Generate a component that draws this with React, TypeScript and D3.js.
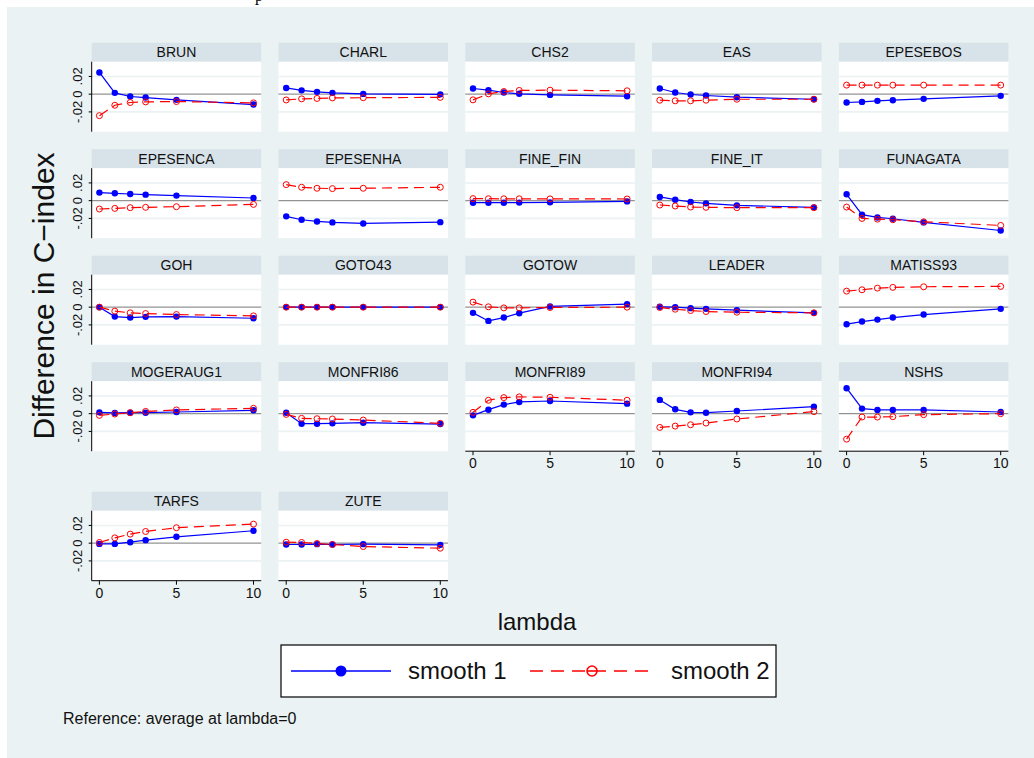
import React, { useEffect, useRef } from "react";
import * as d3 from "d3";

// lambda values on the x axis
const lambdas = [0, 1, 2, 3, 5, 10];

const studies = [
  "BRUN", "CHARL", "CHS2", "EAS", "EPESEBOS",
  "EPESENCA", "EPESENHA", "FINE_FIN", "FINE_IT", "FUNAGATA",
  "GOH", "GOTO43", "GOTOW", "LEADER", "MATISS93",
  "MOGERAUG1", "MONFRI86", "MONFRI89", "MONFRI94", "NSHS",
  "TARFS", "ZUTE"
];

// smooth 1 (blue, solid)
const smooth1 = [
  [0.0245, 0.0015, -0.0026, -0.0038, -0.0064, -0.0117],
  [0.007, 0.0043, 0.0026, 0.0015, 0.0003, -0.0002],
  [0.0064, 0.0045, 0.0019, 0.0004, -0.0008, -0.0023],
  [0.0064, 0.0019, -0.0004, -0.0015, -0.0034, -0.0057],
  [-0.0094, -0.0087, -0.0075, -0.0068, -0.0053, -0.0019],
  [0.0091, 0.0083, 0.0075, 0.0068, 0.0057, 0.003],
  [-0.0177, -0.0215, -0.0234, -0.0245, -0.0257, -0.0242],
  [-0.0023, -0.0023, -0.0023, -0.0022, -0.0019, -0.0008],
  [0.0042, 0.0011, -0.0015, -0.003, -0.0053, -0.0075],
  [0.0072, -0.0158, -0.0189, -0.0204, -0.0245, -0.0336],
  [0, -0.0106, -0.0117, -0.0109, -0.0106, -0.0125],
  [0.0001, 0.0001, 0.0001, 0.0001, 0.0001, 0.0001],
  [-0.0064, -0.0155, -0.0117, -0.0068, 0.0008, 0.0034],
  [0.0004, 0, -0.0011, -0.0019, -0.0034, -0.0064],
  [-0.0192, -0.0162, -0.014, -0.0117, -0.0083, -0.0019],
  [0.0015, 0.0008, 0.0011, 0.0011, 0.0019, 0.0038],
  [0.0011, -0.0113, -0.0113, -0.0109, -0.0102, -0.0117],
  [-0.0019, 0.0045, 0.0102, 0.0132, 0.0143, 0.0113],
  [0.0155, 0.0049, 0.0015, 0.0011, 0.003, 0.0079],
  [0.0287, 0.0057, 0.0042, 0.0042, 0.0042, 0.0019],
  [-0.0008, -0.0008, 0.0011, 0.0034, 0.0072, 0.014],
  [-0.0015, -0.0015, -0.0011, -0.0015, -0.0011, -0.0019]
];

// smooth 2 (red, dashed, hollow)
const smooth2 = [
  [-0.0242, -0.0125, -0.0094, -0.0087, -0.0083, -0.0098],
  [-0.0065, -0.0053, -0.0048, -0.0042, -0.004, -0.0036],
  [-0.0064, 0.0004, 0.003, 0.0042, 0.0045, 0.0038],
  [-0.0068, -0.0075, -0.0075, -0.0068, -0.0057, -0.0057],
  [0.0102, 0.0102, 0.0102, 0.0102, 0.0102, 0.0102],
  [-0.0094, -0.0087, -0.0079, -0.0075, -0.0068, -0.0042],
  [0.0181, 0.0151, 0.014, 0.0136, 0.014, 0.0151],
  [0.0023, 0.0022, 0.0021, 0.0021, 0.002, 0.0019],
  [-0.0049, -0.006, -0.0072, -0.0075, -0.0079, -0.0079],
  [-0.0072, -0.02, -0.0208, -0.0215, -0.0238, -0.0279],
  [0, -0.0045, -0.0064, -0.0072, -0.0083, -0.0098],
  [0, 0, 0, 0, 0, 0],
  [0.0057, 0.0004, -0.0008, -0.0008, -0.0004, 0],
  [-0.0004, -0.0023, -0.0038, -0.0049, -0.0057, -0.0064],
  [0.0181, 0.0196, 0.0215, 0.0223, 0.023, 0.0234],
  [-0.0019, -0.0004, 0.0011, 0.0026, 0.0042, 0.006],
  [-0.0008, -0.0053, -0.0057, -0.006, -0.0072, -0.0109],
  [0.0015, 0.0151, 0.0181, 0.0189, 0.0185, 0.0151],
  [-0.0155, -0.014, -0.0125, -0.0106, -0.006, 0.0023],
  [-0.0287, -0.0038, -0.0038, -0.0034, -0.0011, 0],
  [0.0008, 0.006, 0.0102, 0.0132, 0.0174, 0.0215],
  [0.0011, 0.0008, -0.0004, -0.0015, -0.0038, -0.0057]
];

const yTicks = [-0.02, 0, 0.02];
const yTickLabels = ["-.02", "0", ".02"];
const xTicks = [0, 5, 10];

const FONT = "'Liberation Sans', Arial, Helvetica, sans-serif";

function App() {
  const ref = useRef<SVGSVGElement>(null);

  useEffect(() => {
    drawChart();
  }, []);

  const drawChart = () => {
    const svg = d3.select(ref.current);
    svg.selectAll("*").remove();

    const W = 1034;
    const H = 758;
    const ncol = 5;
    const colLeft = 91.7;
    const colStep = 186.8;
    const panelW = 169.5;
    const stripH = 19;
    const plotH = 70;
    const rowTop = (r: number) => 42.7 + r * 106.5 + (r === 4 ? 23 : 0);

    // page background
    svg.append("rect").attr("width", W).attr("height", H).attr("fill", "white");
    svg
      .append("text")
      .attr("x", 255)
      .attr("y", 1)
      .style("font-family", "serif")
      .style("font-size", "16px")
      .text("p");
    svg
      .append("rect")
      .attr("x", 7)
      .attr("y", 7)
      .attr("width", W - 7)
      .attr("height", H - 7)
      .attr("fill", "#eaf2f3");

    const x = d3.scaleLinear().domain([-0.5, 10.5]).range([0, panelW]);
    const y = d3.scaleLinear().domain([-0.0423, 0.0366]).range([plotH, 0]);

    const line = d3
      .line<number>()
      .x((d, i) => x(lambdas[i]))
      .y(d => y(d));

    const n = studies.length;

    studies.forEach((name, idx) => {
      const r = Math.floor(idx / ncol);
      const c = idx % ncol;
      const left = colLeft + c * colStep;
      const top = rowTop(r);
      const g = svg.append("g").attr("transform", `translate(${left},${top})`);

      // strip
      g.append("rect")
        .attr("width", panelW)
        .attr("height", stripH)
        .attr("fill", "#d8e3e9");
      g.append("text")
        .attr("x", panelW / 2)
        .attr("y", 14.5)
        .attr("text-anchor", "middle")
        .style("font-family", FONT)
        .style("font-size", "14px")
        .attr("fill", "#111")
        .text(name);

      const p = g.append("g").attr("transform", `translate(0,${stripH})`);
      p.append("rect").attr("width", panelW).attr("height", plotH).attr("fill", "white");

      // grid
      p.selectAll("line.grid")
        .data(yTicks.filter(t => t !== 0))
        .enter()
        .append("line")
        .attr("x1", 0)
        .attr("x2", panelW)
        .attr("y1", d => y(d))
        .attr("y2", d => y(d))
        .attr("stroke", "#eaf2f3")
        .attr("stroke-width", 1.6);

      // reference line at 0
      p.append("line")
        .attr("x1", 0)
        .attr("x2", panelW)
        .attr("y1", y(0))
        .attr("y2", y(0))
        .attr("stroke", "#939393")
        .attr("stroke-width", 1.4);

      // smooth 1
      p.append("path")
        .attr("d", line(smooth1[idx]))
        .attr("fill", "none")
        .attr("stroke", "#0000ff")
        .attr("stroke-width", 1.2);
      p.selectAll("circle.s1")
        .data(smooth1[idx])
        .enter()
        .append("circle")
        .attr("cx", (d, i) => x(lambdas[i]))
        .attr("cy", d => y(d))
        .attr("r", 3.2)
        .attr("fill", "#0000ff");

      // smooth 2
      p.append("path")
        .attr("d", line(smooth2[idx]))
        .attr("fill", "none")
        .attr("stroke", "#ff0000")
        .attr("stroke-width", 1.2)
        .attr("stroke-dasharray", "10,6");
      p.selectAll("circle.s2")
        .data(smooth2[idx])
        .enter()
        .append("circle")
        .attr("cx", (d, i) => x(lambdas[i]))
        .attr("cy", d => y(d))
        .attr("r", 3)
        .attr("fill", "none")
        .attr("stroke", "#ff0000")
        .attr("stroke-width", 1);

      // y axis on first column
      if (c === 0) {
        p.append("line")
          .attr("x1", 0)
          .attr("x2", 0)
          .attr("y1", 0)
          .attr("y2", plotH)
          .attr("stroke", "black")
          .attr("stroke-width", 1);
        yTicks.forEach((t, i) => {
          p.append("line")
            .attr("x1", -3)
            .attr("x2", 0)
            .attr("y1", y(t))
            .attr("y2", y(t))
            .attr("stroke", "black");
          p.append("text")
            .attr("transform", `translate(-10.2,${y(t)}) rotate(-90)`)
            .attr("text-anchor", "middle")
            .style("font-family", FONT)
            .style("font-size", "13px")
            .attr("fill", "#111")
            .text(yTickLabels[i]);
        });
      }

      // x axis on the lowest panel of each column
      if (idx + ncol >= n) {
        p.append("line")
          .attr("x1", 0)
          .attr("x2", panelW)
          .attr("y1", plotH)
          .attr("y2", plotH)
          .attr("stroke", "black");
        xTicks.forEach(t => {
          p.append("line")
            .attr("x1", x(t))
            .attr("x2", x(t))
            .attr("y1", plotH)
            .attr("y2", plotH + 4)
            .attr("stroke", "black");
          p.append("text")
            .attr("x", x(t))
            .attr("y", plotH + 17)
            .attr("text-anchor", "middle")
            .style("font-family", FONT)
            .style("font-size", "14px")
            .attr("fill", "#111")
            .text(t);
        });
      }
    });

    // axis titles
    svg
      .append("text")
      .attr("transform", `translate(54,296) rotate(-90)`)
      .attr("text-anchor", "middle")
      .style("font-family", FONT)
      .style("font-size", "30px")
      .attr("fill", "#111")
      .text("Difference in C\u2212index");
    svg
      .append("text")
      .attr("x", 537)
      .attr("y", 630)
      .attr("text-anchor", "middle")
      .style("font-family", FONT)
      .style("font-size", "24px")
      .attr("fill", "#111")
      .text("lambda");

    // legend
    const lg = svg.append("g").attr("transform", "translate(281,645)");
    lg.append("rect")
      .attr("width", 495)
      .attr("height", 52)
      .attr("fill", "white")
      .attr("stroke", "black")
      .attr("stroke-width", 1.2);
    lg.append("line")
      .attr("x1", 10)
      .attr("x2", 110)
      .attr("y1", 26)
      .attr("y2", 26)
      .attr("stroke", "#0000ff")
      .attr("stroke-width", 1.6);
    lg.append("circle").attr("cx", 60).attr("cy", 26).attr("r", 5.5).attr("fill", "#0000ff");
    lg.append("text")
      .attr("x", 127)
      .attr("y", 34)
      .style("font-family", FONT)
      .style("font-size", "24px")
      .attr("fill", "#111")
      .text("smooth 1");
    lg.append("line")
      .attr("x1", 249)
      .attr("x2", 374)
      .attr("y1", 26)
      .attr("y2", 26)
      .attr("stroke", "#ff0000")
      .attr("stroke-width", 1.6)
      .attr("stroke-dasharray", "13,8");
    lg.append("circle")
      .attr("cx", 311)
      .attr("cy", 26)
      .attr("r", 5)
      .attr("fill", "white")
      .attr("stroke", "#ff0000")
      .attr("stroke-width", 1.6);
    lg.append("line")
      .attr("x1", 306)
      .attr("x2", 316)
      .attr("y1", 26)
      .attr("y2", 26)
      .attr("stroke", "#ff0000")
      .attr("stroke-width", 1.6);
    lg.append("text")
      .attr("x", 390)
      .attr("y", 34)
      .style("font-family", FONT)
      .style("font-size", "24px")
      .attr("fill", "#111")
      .text("smooth 2");

    // note
    svg
      .append("text")
      .attr("x", 63)
      .attr("y", 724)
      .style("font-family", FONT)
      .style("font-size", "16px")
      .attr("fill", "#111")
      .text("Reference: average at lambda=0");
  };

  return (
    <svg
      ref={ref}
      width={1034}
      height={758}
      style={{ position: "absolute", left: 0, top: 0 }}
    />
  );
}

export default App;
